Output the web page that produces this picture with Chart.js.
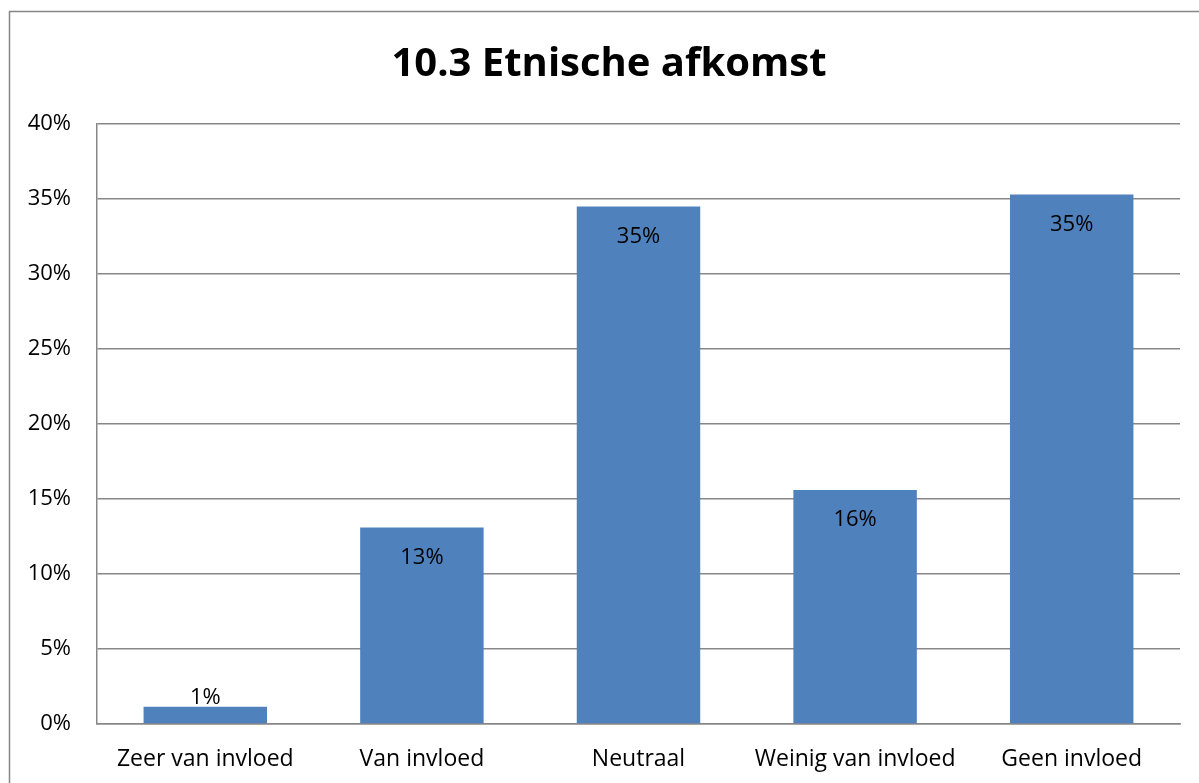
<!DOCTYPE html>
<html>
<head>
<meta charset="utf-8">
<script src="https://cdn.jsdelivr.net/npm/chart.js@4.4.1/dist/chart.umd.min.js"></script>
<style>
  html, body { margin: 0; padding: 0; background: #ffffff; overflow: hidden; }
  #wrap { position: relative; width: 1199px; height: 783px; }
  canvas { display: block; }
</style>
</head>
<body>
<div id="wrap"><canvas id="c" width="1199" height="783"></canvas></div>
<script>
const chartTitle = "10.3 Etnische afkomst";
const categories = ["Zeer van invloed", "Van invloed", "Neutraal", "Weinig van invloed", "Geen invloed"];
const values = [1.15, 13.1, 34.5, 15.6, 35.3];
const yTicks = [0, 5, 10, 15, 20, 25, 30, 35, 40];

const FONT = "'Open Sans', 'Noto Sans', sans-serif";
const GRID = "#878787";

const frame = {
  id: 'frame',
  beforeDraw(chart) {
    const ctx = chart.ctx;
    ctx.save();
    ctx.fillStyle = '#ffffff';
    ctx.fillRect(0, 0, chart.width, chart.height);
    ctx.strokeStyle = '#868686';
    ctx.lineWidth = 1.5;
    ctx.strokeRect(9.5, 11.5, 1400, 1000);
    ctx.restore();
  },
  afterDraw(chart) {
    const ctx = chart.ctx;
    ctx.save();
    ctx.font = "bold 40px " + FONT;
    ctx.fillStyle = '#000000';
    ctx.textAlign = 'center';
    ctx.textBaseline = 'alphabetic';
    ctx.fillText(chartTitle, 609, 76);
    ctx.restore();
  }
};

const barLabels = {
  id: 'barLabels',
  afterDatasetsDraw(chart) {
    const ctx = chart.ctx;
    const meta = chart.getDatasetMeta(0);
    ctx.save();
    ctx.font = "22px " + FONT;
    ctx.fillStyle = '#000000';
    ctx.textAlign = 'center';
    ctx.textBaseline = 'middle';
    meta.data.forEach((bar, i) => {
      const v = chart.data.datasets[0].data[i];
      const txt = Math.round(v) + '%';
      const h = bar.base - bar.y;
      const y = h > 45 ? bar.y + 30 : bar.y - 9;
      ctx.fillText(txt, bar.x, y);
    });
    ctx.restore();
  }
};

new Chart(document.getElementById('c'), {
  type: 'bar',
  data: {
    labels: categories,
    datasets: [{
      data: values,
      backgroundColor: '#4F81BD',
      borderWidth: 0,
      barPercentage: 0.57,
      categoryPercentage: 1.0
    }]
  },
  options: {
    responsive: false,
    animation: false,
    devicePixelRatio: 1,
    layout: { padding: { left: 0, right: 19, top: 124, bottom: 0 } },
    plugins: {
      legend: { display: false },
      tooltip: { enabled: false },
      title: { display: false }
    },
    scales: {
      x: {
        grid: { display: false, drawTicks: false },
        border: { display: true, color: GRID, width: 1.5 },
        ticks: {
          color: '#000000',
          font: { family: FONT, size: 23 },
          padding: 22,
          maxRotation: 0,
          autoSkip: false
        },
        afterFit(scale) { scale.height = 59; }
      },
      y: {
        min: 0,
        max: 40,
        afterBuildTicks(scale) { scale.ticks = yTicks.map(v => ({ value: v })); },
        grid: { color: GRID, lineWidth: 1.5, drawTicks: false },
        border: { display: true, color: GRID, width: 1.5 },
        ticks: {
          color: '#000000',
          font: { family: FONT, size: 22 },
          padding: 26,
          callback: v => v + '%'
        },
        afterFit(scale) { scale.width = 97; }
      }
    }
  },
  plugins: [frame, barLabels]
});
</script>
</body>
</html>
